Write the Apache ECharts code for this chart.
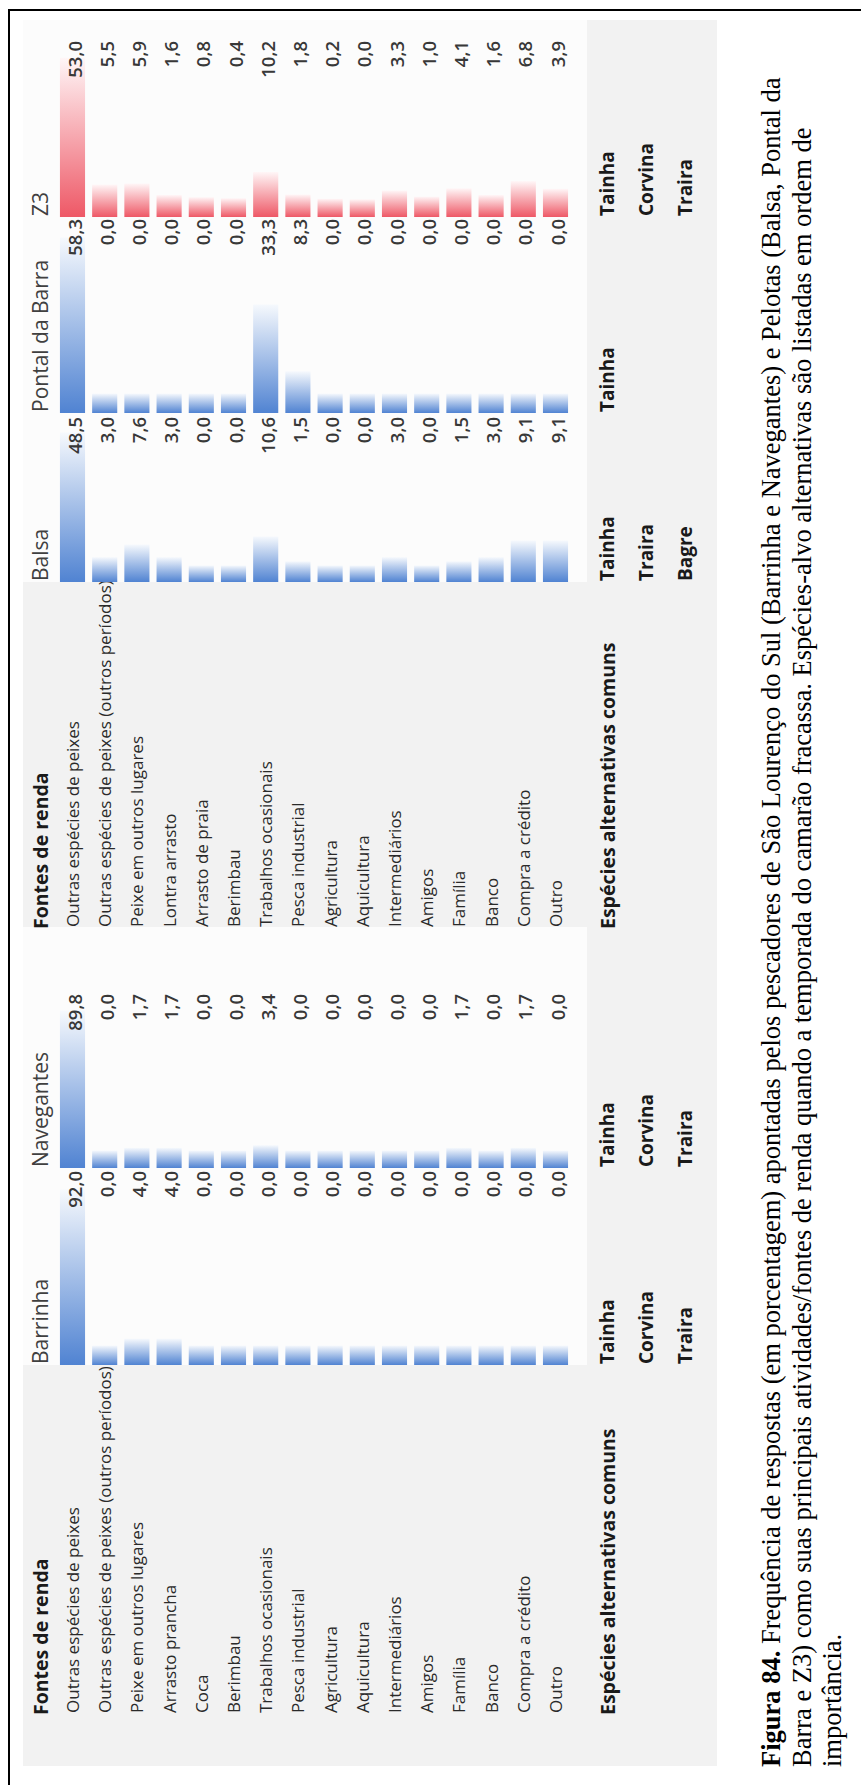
<!DOCTYPE html>
<html>
<head>
<meta charset="utf-8">
<script src="https://cdn.jsdelivr.net/npm/echarts@6/dist/echarts.min.js"></script>
<style>
  html, body { margin: 0; padding: 0; background: #ffffff; }
  #page { position: relative; width: 861px; height: 1785px; overflow: hidden; background: #ffffff; }
  /* the figure is laid out landscape and turned a quarter turn counter-clockwise */
  #chart { position: absolute; left: 0; top: 0; width: 1785px; height: 861px;
           transform-origin: 0 0; transform: translate(0, 1785px) rotate(-90deg); }
</style>
</head>
<body>
<div id="page"><div id="chart"></div></div>
<script>
// ---- data ----
const categoriesSaoLourenco = [
  'Outras espécies de peixes', 'Outras espécies de peixes (outros períodos)', 'Peixe em outros lugares',
  'Arrasto prancha', 'Coca', 'Berimbau', 'Trabalhos ocasionais', 'Pesca industrial', 'Agricultura',
  'Aquicultura', 'Intermediários', 'Amigos', 'Família', 'Banco', 'Compra a crédito', 'Outro'
];
const categoriesPelotas = [
  'Outras espécies de peixes', 'Outras espécies de peixes (outros períodos)', 'Peixe em outros lugares',
  'Lontra arrasto', 'Arrasto de praia', 'Berimbau', 'Trabalhos ocasionais', 'Pesca industrial', 'Agricultura',
  'Aquicultura', 'Intermediários', 'Amigos', 'Família', 'Banco', 'Compra a crédito', 'Outro'
];
const barrinha   = [92.0, 0.0, 4.0, 4.0, 0.0, 0.0, 0.0, 0.0, 0.0, 0.0, 0.0, 0.0, 0.0, 0.0, 0.0, 0.0];
const navegantes = [89.8, 0.0, 1.7, 1.7, 0.0, 0.0, 3.4, 0.0, 0.0, 0.0, 0.0, 0.0, 1.7, 0.0, 1.7, 0.0];
const balsa      = [48.5, 3.0, 7.6, 3.0, 0.0, 0.0, 10.6, 1.5, 0.0, 0.0, 3.0, 0.0, 1.5, 3.0, 9.1, 9.1];
const pontal     = [58.3, 0.0, 0.0, 0.0, 0.0, 0.0, 33.3, 8.3, 0.0, 0.0, 0.0, 0.0, 0.0, 0.0, 0.0, 0.0];
const z3         = [53.0, 5.5, 5.9, 1.6, 0.8, 0.4, 10.2, 1.8, 0.2, 0.0, 3.3, 1.0, 4.1, 1.6, 6.8, 3.9];

const speciesBarrinha   = ['Tainha', 'Corvina', 'Traira'];
const speciesNavegantes = ['Tainha', 'Corvina', 'Traira'];
const speciesBalsa      = ['Tainha', 'Traira', 'Bagre'];
const speciesPontal     = ['Tainha'];
const speciesZ3         = ['Tainha', 'Corvina', 'Traira'];

const headerSources = 'Fontes de renda';
const headerSpecies = 'Espécies alternativas comuns';
const captionLines = [
  ['Figura 84.', ' Frequência de respostas (em porcentagem) apontadas pelos pescadores de São Lourenço do Sul (Barrinha e Navegantes) e Pelotas (Balsa, Pontal da'],
  ['', 'Barra e Z3) como suas principais atividades/fontes de renda quando a temporada do camarão fracassa. Espécies-alvo alternativas são listadas em ordem de'],
  ['', 'importância.']
];

// ---- layout (landscape frame, 1785 x 861) ----
const SANS = '"Open Sans", "Noto Sans", sans-serif';
const BLUE = ['#5083d2', '#f6f9fd'];
const RED  = ['#ee5866', '#fff6f7'];
const ROW_TOP = 56.4, ROW_PITCH = 32.2, N_ROWS = 16;
const HEADER_Y = 40;
const SPECIES_Y = [607, 646, 685];

const tables = [
  { labelX: 72, categories: categoriesSaoLourenco, whiteFrom: 420, whiteTo: 858,
    columns: [
      { name: 'Barrinha',   values: barrinha,   species: speciesBarrinha,   left: 420,  width: 195, colors: BLUE },
      { name: 'Navegantes', values: navegantes, species: speciesNavegantes, left: 617,  width: 175, colors: BLUE }
    ] },
  { labelX: 858, categories: categoriesPelotas, whiteFrom: 1203, whiteTo: 1765,
    columns: [
      { name: 'Balsa',           values: balsa,  species: speciesBalsa,  left: 1203, width: 166, colors: BLUE },
      { name: 'Pontal da Barra', values: pontal, species: speciesPontal, left: 1372, width: 195, colors: BLUE },
      { name: 'Z3',              values: z3,     species: speciesZ3,     left: 1568, width: 177, colors: RED }
    ] }
];

const fmt = v => v.toFixed(1).replace('.', ',');

const grids = [], xAxes = [], yAxes = [], series = [], elements = [];

// panel background and frame lines
elements.push({ type: 'rect', z: -10, shape: { x: 19, y: 23, width: 1746, height: 694 }, style: { fill: '#f2f2f2' } });
elements.push({ type: 'rect', z: -8, shape: { x: 0, y: 8, width: 1776, height: 2 }, style: { fill: '#000' } });
elements.push({ type: 'rect', z: -8, shape: { x: 1774, y: 8, width: 2, height: 853 }, style: { fill: '#000' } });

function textEl(x, y, text, size, weight, color, align) {
  return { type: 'text', x: x, y: y, z: 5,
    style: { text: text, fontSize: size, fontWeight: weight, fontFamily: SANS, fill: color,
             align: align || 'left', verticalAlign: 'middle', textAlign: align || 'left', textVerticalAlign: 'middle' } };
}

function makeRender(col, axisMin, axisMax) {
  return function (params, api) {
    const idx = api.value(0);
    const val = api.value(1);
    const start = api.coord([axisMin, idx]);
    const end = api.coord([val, idx]);
    const labelAt = api.coord([axisMax, idx]);
    const h = api.size([0, 1])[1] * 0.78;
    return {
      type: 'group',
      children: [
        { type: 'rect',
          shape: { x: start[0], y: start[1] - h / 2, width: end[0] - start[0], height: h },
          style: { fill: new echarts.graphic.LinearGradient(0, 0, 1, 0, [
            { offset: 0, color: col.colors[0] }, { offset: 1, color: col.colors[1] }]) } },
        { type: 'text', x: labelAt[0] - 1, y: labelAt[1] + 1.5,
          style: { text: fmt(val), fontSize: 18.5, fontWeight: 600, fontFamily: SANS, fill: '#383838',
                   align: 'right', verticalAlign: 'middle', textAlign: 'right', textVerticalAlign: 'middle' } }
      ]
    };
  };
}

tables.forEach(tbl => {
  // white band behind the bar columns
  elements.push({ type: 'rect', z: -9, shape: { x: tbl.whiteFrom, y: 23, width: tbl.whiteTo - tbl.whiteFrom, height: 564 },
                  style: { fill: '#fcfcfc' } });
  elements.push(textEl(tbl.labelX - 2, HEADER_Y, headerSources, 19.5, 'bold', '#1a1a1a'));
  elements.push(textEl(tbl.labelX - 2, SPECIES_Y[0], headerSpecies, 19.5, 'bold', '#1a1a1a'));
  tbl.columns.forEach((col, ci) => {
    const g = grids.length;
    const vmax = Math.max.apply(null, col.values);
    // bars run from 10% (zero) to 90% (column maximum) of the cell
    const axisMin = -vmax * 0.125, axisMax = vmax * 1.125;
    grids.push({ left: col.left, top: ROW_TOP, width: col.width, height: ROW_PITCH * N_ROWS });
    xAxes.push({ type: 'value', gridIndex: g, min: axisMin, max: axisMax, show: false });
    yAxes.push({
      type: 'category', gridIndex: g, inverse: true, data: tbl.categories,
      show: ci === 0,
      axisLine: { show: false }, axisTick: { show: false }, splitLine: { show: false },
      axisLabel: { show: ci === 0, align: 'left', margin: col.left - tbl.labelX,
                   fontSize: 17, fontFamily: SANS, color: '#2a2a2a', padding: [6, 0, 0, 0] }
    });
    series.push({
      type: 'custom', name: col.name, xAxisIndex: g, yAxisIndex: g,
      renderItem: makeRender(col, axisMin, axisMax),
      encode: { x: 1, y: 0 },
      data: col.values.map((v, i) => [i, v])
    });
    elements.push(textEl(col.left + 1, HEADER_Y, col.name, 21, 'normal', '#404040'));
    col.species.forEach((s, si) => elements.push(textEl(col.left + 1, SPECIES_Y[si], s, 19, 'bold', '#1a1a1a')));
  });
});

// figure caption
const SERIF = '"Liberation Serif", "Times New Roman", serif';
const capText = captionLines.map(l => (l[0] ? '{b|' + l[0] + '}' : '') + '{n|' + l[1] + '}').join('\n');
elements.push({ type: 'text', x: 18, y: 755.75, z: 5,
  style: { text: capText, fill: '#000', align: 'left', verticalAlign: 'top', textAlign: 'left', textVerticalAlign: 'top',
    fontSize: 26.5, fontFamily: SERIF, lineHeight: 30.5,
    rich: {
      b: { fontSize: 26.5, fontFamily: SERIF, fontWeight: 'bold', lineHeight: 30.5, fill: '#000' },
      n: { fontSize: 26.5, fontFamily: SERIF, fontWeight: 'normal', lineHeight: 30.5, fill: '#000' }
    } } });

const chart = echarts.init(document.getElementById('chart'), null, { renderer: 'svg', width: 1785, height: 861 });
chart.setOption({
  animation: false,
  backgroundColor: 'transparent',
  grid: grids, xAxis: xAxes, yAxis: yAxes, series: series,
  graphic: { elements: elements }
});
</script>
</body>
</html>
